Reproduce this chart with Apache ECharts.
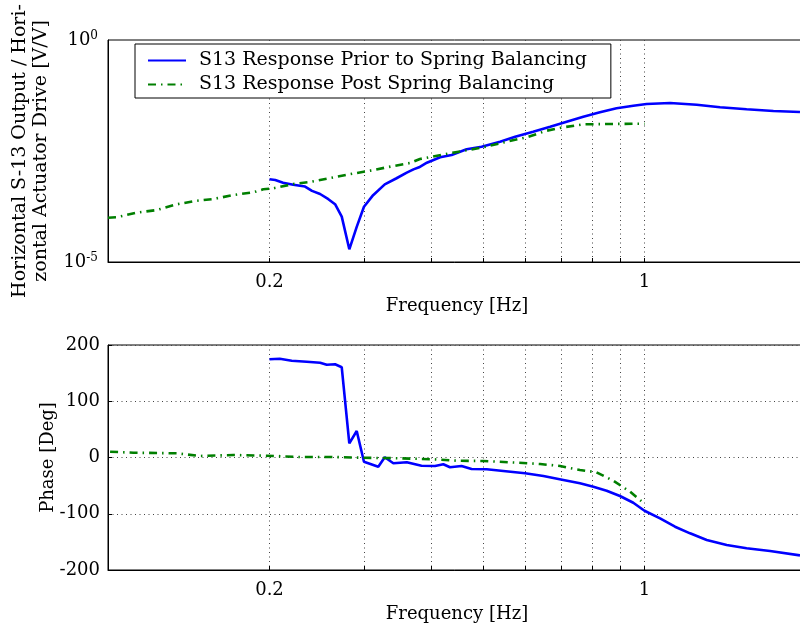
<!DOCTYPE html>
<html>
<head>
<meta charset="utf-8">
<script src="https://cdn.jsdelivr.net/npm/echarts@6/dist/echarts.min.js"></script>
<style>
  html, body { margin: 0; padding: 0; background: #fff; }
  #chart { width: 800px; height: 632px; }
</style>
</head>
<body>
<div id="chart"></div>
<script>
// ---- Data ----
const seriesNames = ['S13 Response Prior to Spring Balancing', 'S13 Response Post Spring Balancing'];

// Magnitude, prior to balancing
const freqPriorMag = [0.200, 0.205, 0.212, 0.2215, 0.233, 0.240, 0.2485, 0.2575, 0.265, 0.2727, 0.2817, 0.2908, 0.300, 0.312, 0.328, 0.345, 0.3605, 0.371, 0.380, 0.393, 0.416, 0.437, 0.466, 0.497, 0.538, 0.574, 0.620, 0.667, 0.716, 0.769, 0.826, 0.887, 0.953, 1.009, 1.116, 1.251, 1.383, 1.550, 1.739, 1.949];
const magPrior = [7.3e-4, 7.0e-4, 6.1e-4, 5.5e-4, 5.0e-4, 4.0e-4, 3.4e-4, 2.6e-4, 2.0e-4, 1.05e-4, 1.93e-5, 6.2e-5, 1.76e-4, 3.2e-4, 5.6e-4, 7.7e-4, 1.03e-3, 1.22e-3, 1.36e-3, 1.72e-3, 2.28e-3, 2.57e-3, 3.45e-3, 3.95e-3, 5.1e-3, 6.6e-3, 8.6e-3, 1.11e-2, 1.44e-2, 1.87e-2, 2.35e-2, 2.9e-2, 3.31e-2, 3.62e-2, 3.81e-2, 3.49e-2, 3.05e-2, 2.75e-2, 2.52e-2, 2.39e-2];

// Magnitude, post balancing
const freqPostMag = [0.100, 0.1038, 0.1131, 0.1233, 0.1343, 0.1453, 0.1572, 0.1713, 0.1866, 0.1947, 0.2033, 0.2215, 0.2379, 0.2817, 0.3078, 0.3403, 0.366, 0.3815, 0.434, 0.5006, 0.5536, 0.603, 0.657, 0.706, 0.769, 0.850, 0.953, 1.000];
const magPost = [9.95e-5, 1.02e-4, 1.29e-4, 1.48e-4, 1.99e-4, 2.37e-4, 2.62e-4, 3.23e-4, 3.71e-4, 4.34e-4, 4.57e-4, 5.71e-4, 6.34e-4, 9.44e-4, 1.14e-3, 1.45e-3, 1.70e-3, 2.09e-3, 2.81e-3, 3.83e-3, 5.12e-3, 6.44e-3, 9.06e-3, 1.08e-2, 1.26e-2, 1.28e-2, 1.30e-2, 1.30e-2];

// Phase, prior to balancing
const freqPriorPhase = [0.200, 0.209, 0.220, 0.2346, 0.2485, 0.2557, 0.265, 0.2727, 0.2817, 0.2908, 0.300, 0.319, 0.328, 0.3403, 0.3605, 0.384, 0.407, 0.4217, 0.434, 0.456, 0.476, 0.508, 0.5456, 0.599, 0.648, 0.706, 0.758, 0.803, 0.850, 0.900, 0.953, 1.000, 1.069, 1.140, 1.216, 1.306, 1.423, 1.550, 1.714, 1.949];
const phasePrior = [174.6, 175.6, 172.1, 170.3, 168.5, 165.0, 165.7, 160.4, 25.2, 47.1, -7.5, -16.4, 0.4, -10.3, -8.5, -14.6, -15.1, -12.1, -17.4, -15.1, -20.4, -21.0, -24.0, -28.1, -32.9, -40.0, -45.9, -51.9, -59.0, -68.4, -80.4, -94.6, -108.1, -123.0, -134.8, -146.7, -155.6, -161.4, -166.2, -174.0];

// Phase, post balancing
const freqPostPhase = [0.1009, 0.1115, 0.1343, 0.1484, 0.1713, 0.1976, 0.228, 0.263, 0.2985, 0.350, 0.404, 0.4467, 0.5006, 0.578, 0.639, 0.696, 0.758, 0.814, 0.8745, 0.940, 0.995];
const phasePost = [10.3, 8.5, 7.5, 2.7, 4.4, 3.2, 0.9, 0.9, -0.4, -1.4, -3.2, -5.7, -6.2, -9.2, -11.6, -15.1, -22.2, -26.3, -41.2, -60.8, -80.4];

// Axis ticks
const xGridValues = [0.2, 0.3, 0.4, 0.5, 0.6, 0.7, 0.8, 0.9, 1];
const xLabelValues = [0.2, 1];
const magTickValues = [1e-5, 1];

const xTitle = 'Frequency [Hz]';
const magTitle = 'Horizontal S-13 Output / Hori-\nzontal Actuator Drive [V/V]';
const phaseTitle = 'Phase [Deg]';

// ---- Chart ----
const pairs = (xs, ys) => xs.map((x, i) => [x, ys[i]]);
const FONT = 'DejaVu Serif';
const FS = 18;
const dotted = { color: '#444', width: 1, type: [1, 3.5] };

function xAxis(gridIndex) {
  return {
    type: 'log', logBase: 10, gridIndex, min: 0.1, max: 2,
    name: xTitle, nameLocation: 'middle', nameGap: 35, nameMoveOverlap: false,
    nameTextStyle: { fontFamily: FONT, fontSize: FS, color: '#000' },
    axisLine: { show: true, onZero: false, lineStyle: { color: '#000', width: 1 } },
    axisTick: { show: true, inside: true, length: 4, customValues: xGridValues, lineStyle: { color: '#000' } },
    axisLabel: {
      customValues: xLabelValues, margin: 11,
      fontFamily: FONT, fontSize: FS, color: '#000',
      formatter: v => (Math.abs(v - 1) < 1e-9 ? '1' : String(+v.toFixed(2)))
    },
    splitLine: { show: true, lineStyle: dotted },
    minorTick: { show: false }, minorSplitLine: { show: false }
  };
}

const option = {
  animation: false,
  backgroundColor: '#fff',
  textStyle: { fontFamily: FONT },
  grid: [
    { left: 108, top: 40, width: 698, height: 222, outerBoundsMode: 'none', containLabel: false, show: true, borderColor: '#000', borderWidth: 1, backgroundColor: 'transparent' },
    { left: 108, top: 345, width: 698, height: 225, outerBoundsMode: 'none', containLabel: false, show: true, borderColor: '#000', borderWidth: 1, backgroundColor: 'transparent' }
  ],
  legend: {
    orient: 'vertical', left: 135, top: 44,
    data: seriesNames,
    backgroundColor: '#fff', borderColor: '#000', borderWidth: 1,
    padding: [7, 24, 4, 12],
    itemWidth: 38, itemHeight: 14, itemGap: 5,
    itemStyle: { opacity: 0, borderWidth: 0 },
    textStyle: { fontFamily: FONT, fontSize: 19, color: '#000', padding: [0, 0, 0, 8] }
  },
  xAxis: [xAxis(0), xAxis(1)],
  yAxis: [
    {
      type: 'log', logBase: 10, gridIndex: 0, min: 1e-5, max: 1,
      name: magTitle, nameLocation: 'middle', nameGap: 56, nameRotate: 90, nameMoveOverlap: false,
      nameTextStyle: { fontFamily: FONT, fontSize: 19, color: '#000', lineHeight: 21 },
      axisLine: { show: true, lineStyle: { color: '#000' } },
      axisTick: { show: false, customValues: magTickValues },
      axisLabel: {
        customValues: magTickValues, margin: 10,
        formatter: v => '{b|10}{s|' + Math.round(Math.log10(v)) + '}',
        rich: {
          b: { fontFamily: FONT, fontSize: FS, color: '#000' },
          s: { fontFamily: FONT, fontSize: 12, color: '#000', verticalAlign: 'top', padding: [0, 0, 8, 0] }
        }
      },
      splitLine: { show: false }
    },
    {
      type: 'value', gridIndex: 1, min: -200, max: 200, interval: 100,
      name: phaseTitle, nameLocation: 'middle', nameGap: 51, nameRotate: 90, nameMoveOverlap: false,
      nameTextStyle: { fontFamily: FONT, fontSize: FS, color: '#000' },
      axisLine: { show: true, lineStyle: { color: '#000' } },
      axisTick: { show: true, inside: true, length: 4, lineStyle: { color: '#000' } },
      axisLabel: { margin: 8, fontFamily: FONT, fontSize: FS, color: '#000' },
      splitLine: { show: true, lineStyle: dotted }
    }
  ],
  series: [
    {
      name: seriesNames[0], type: 'line', xAxisIndex: 0, yAxisIndex: 0,
      data: pairs(freqPriorMag, magPrior), symbol: 'none', clip: true,
      lineStyle: { color: '#0000ff', width: 2.6 }, itemStyle: { color: '#0000ff' }
    },
    {
      name: seriesNames[1], type: 'line', xAxisIndex: 0, yAxisIndex: 0,
      data: pairs(freqPostMag, magPost), symbol: 'none', clip: true,
      lineStyle: { color: '#007f00', width: 2.6, type: [8, 5, 1.5, 5] }, itemStyle: { color: '#007f00' }
    },
    {
      name: seriesNames[0], type: 'line', xAxisIndex: 1, yAxisIndex: 1,
      data: pairs(freqPriorPhase, phasePrior), symbol: 'none', clip: true,
      lineStyle: { color: '#0000ff', width: 2.6 }, itemStyle: { color: '#0000ff' }
    },
    {
      name: seriesNames[1], type: 'line', xAxisIndex: 1, yAxisIndex: 1,
      data: pairs(freqPostPhase, phasePost), symbol: 'none', clip: true,
      lineStyle: { color: '#007f00', width: 2.6, type: [8, 5, 1.5, 5] }, itemStyle: { color: '#007f00' }
    }
  ]
};

const chart = echarts.init(document.getElementById('chart'), null, { renderer: 'canvas' });
chart.setOption(option);
</script>
</body>
</html>
